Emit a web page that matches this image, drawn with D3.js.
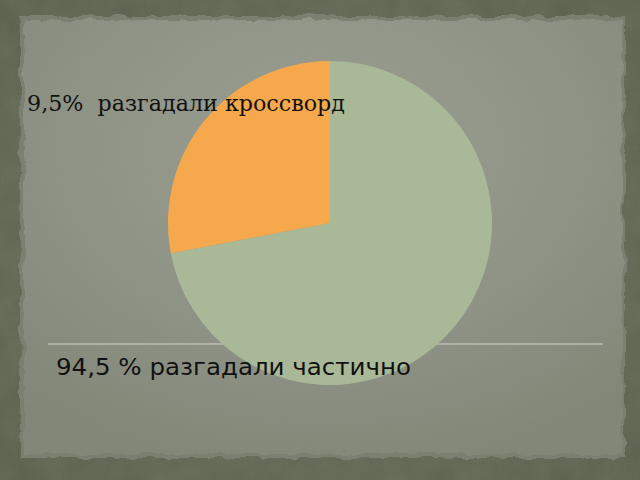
<!DOCTYPE html>
<html><head><meta charset="utf-8">
<script src="https://cdn.jsdelivr.net/npm/d3@7"></script>
<style>html,body{margin:0;padding:0;background:#5d6350;}svg{display:block;}</style>
</head><body>
<svg id="c" width="640" height="480"></svg>
<script>
const categories = ["разгадали частично", "разгадали кроссворд"];
const values = [72, 28];
const colors = ["#a9b998", "#f5a94c"];
const labelTop = "9,5%  разгадали кроссворд";
const labelBottom = "94,5 % разгадали частично";

const svg = d3.select("#c");
const defs = svg.append("defs");

const rough = defs.append("filter").attr("id","rough").attr("x","-5%").attr("y","-5%").attr("width","110%").attr("height","110%");
rough.append("feTurbulence").attr("type","fractalNoise").attr("baseFrequency","0.05").attr("numOctaves","3").attr("seed","4").attr("result","n");
rough.append("feDisplacementMap").attr("in","SourceGraphic").attr("in2","n").attr("scale","9").attr("xChannelSelector","R").attr("yChannelSelector","G");

const grain = defs.append("filter").attr("id","grain");
grain.append("feTurbulence").attr("type","fractalNoise").attr("baseFrequency","0.9").attr("numOctaves","2").attr("seed","2").attr("result","t");
grain.append("feColorMatrix").attr("in","t").attr("type","matrix")
  .attr("values","0 0 0 0 0.5  0 0 0 0 0.5  0 0 0 0 0.45  0 0 0 0.10 0");

const mottle = defs.append("filter").attr("id","mottle");
mottle.append("feTurbulence").attr("type","fractalNoise").attr("baseFrequency","0.03").attr("numOctaves","3").attr("seed","7").attr("result","t");
mottle.append("feColorMatrix").attr("in","t").attr("type","matrix")
  .attr("values","0 0 0 0 0.2  0 0 0 0 0.22  0 0 0 0 0.15  0 0 0 0.35 0");

const rg = defs.append("radialGradient").attr("id","panelGrad").attr("cx","0.5").attr("cy","0.3").attr("r","0.75");
rg.append("stop").attr("offset","0").attr("stop-color","#999d8f");
rg.append("stop").attr("offset","0.6").attr("stop-color","#8c9083");
rg.append("stop").attr("offset","1").attr("stop-color","#7f8475");

const og = defs.append("radialGradient").attr("id","outerGrad").attr("cx","0.5").attr("cy","0.5").attr("r","0.7");
og.append("stop").attr("offset","0").attr("stop-color","#6a705c");
og.append("stop").attr("offset","1").attr("stop-color","#555b47");

svg.append("rect").attr("width",640).attr("height",480).attr("fill","url(#outerGrad)");
svg.append("rect").attr("width",640).attr("height",480).attr("filter","url(#mottle)");
svg.append("rect").attr("x",20).attr("y",16).attr("width",605).attr("height",442)
  .attr("fill","#777d6c").attr("filter","url(#rough)");
svg.append("rect").attr("x",24).attr("y",20).attr("width",598).attr("height",434)
  .attr("fill","url(#panelGrad)").attr("filter","url(#rough)");
svg.append("rect").attr("width",640).attr("height",480).attr("filter","url(#grain)");

svg.append("line").attr("x1",48).attr("x2",603).attr("y1",344).attr("y2",344)
  .attr("stroke","#d2d4cc").attr("stroke-width",1.2);

const cx = 330, cy = 223, r = 162;
const pie = d3.pie().sort(null).value(d => d)(values);
const arc = d3.arc().innerRadius(0).outerRadius(r);
svg.append("g").attr("transform",`translate(${cx},${cy})`)
  .selectAll("path").data(pie).join("path")
  .attr("d", arc).attr("fill", (d,i) => colors[i]);

svg.append("text").attr("x",27).attr("y",111)
  .attr("font-family","'DejaVu Serif',serif")
  .attr("font-size",22).attr("fill","#111")
  .attr("textLength",318).attr("lengthAdjust","spacingAndGlyphs")
  .style("white-space","pre").text(labelTop);

svg.append("text").attr("x",56).attr("y",374.5)
  .attr("font-family","'DejaVu Sans',sans-serif")
  .attr("font-size",23.5).attr("fill","#111")
  .attr("textLength",355).attr("lengthAdjust","spacingAndGlyphs")
  .text(labelBottom);
</script>
</body></html>
